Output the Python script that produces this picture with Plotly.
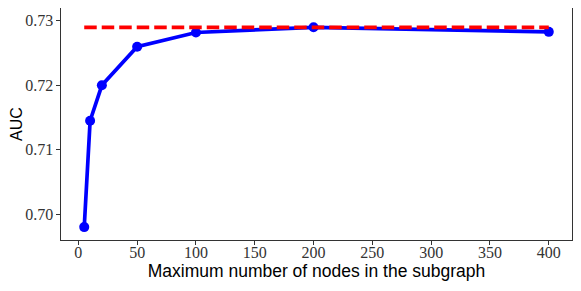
import plotly.graph_objects as go

max_nodes = [5, 10, 20, 50, 100, 200, 400]
auc = [0.698, 0.7145, 0.720, 0.726, 0.7282, 0.7290, 0.7283]
baseline_x = [5, 400]
baseline_auc = [0.729, 0.729]
x_ticks = [0, 50, 100, 150, 200, 250, 300, 350, 400]
y_ticks = [0.70, 0.71, 0.72, 0.73]

fig = go.Figure()
fig.add_trace(go.Scatter(x=max_nodes, y=auc, mode="lines+markers",
                         line=dict(color="#0000ff", width=3.7),
                         marker=dict(color="#0000ff", size=10),
                         showlegend=False))
fig.add_trace(go.Scatter(x=baseline_x, y=baseline_auc, mode="lines",
                         line=dict(color="#ff0000", width=3.7, dash="12.5px,5px"),
                         showlegend=False))

axis_common = dict(showline=True, linecolor="#333333", linewidth=1.2, mirror=True,
                   ticks="outside", ticklen=3.5, tickcolor="#333333",
                   showgrid=False, zeroline=False, automargin=False,
                   tickfont=dict(family="Liberation Serif", size=16, color="#333333"))

fig.update_xaxes(range=[-14.75, 419.75], tickvals=x_ticks,
                 ticklabelstandoff=-6,
                 title=dict(text="Maximum number of nodes in the subgraph",
                            font=dict(family="Liberation Sans", size=17.5, color="black"),
                            standoff=4),
                 **axis_common)
fig.update_yaxes(range=[0.696, 0.732], tickvals=y_ticks,
                 ticktext=["0.70", "0.71", "0.72", "0.73"],
                 title=dict(text="AUC",
                            font=dict(family="Liberation Sans", size=16, color="black"),
                            standoff=9),
                 **axis_common)

# the page body adds an 8px offset, so the figure is sized to compensate
fig.update_layout(width=573, height=283,
                  margin=dict(l=53, r=9, t=0, b=51),
                  plot_bgcolor="white", paper_bgcolor="white")

fig.write_html("out.html")
